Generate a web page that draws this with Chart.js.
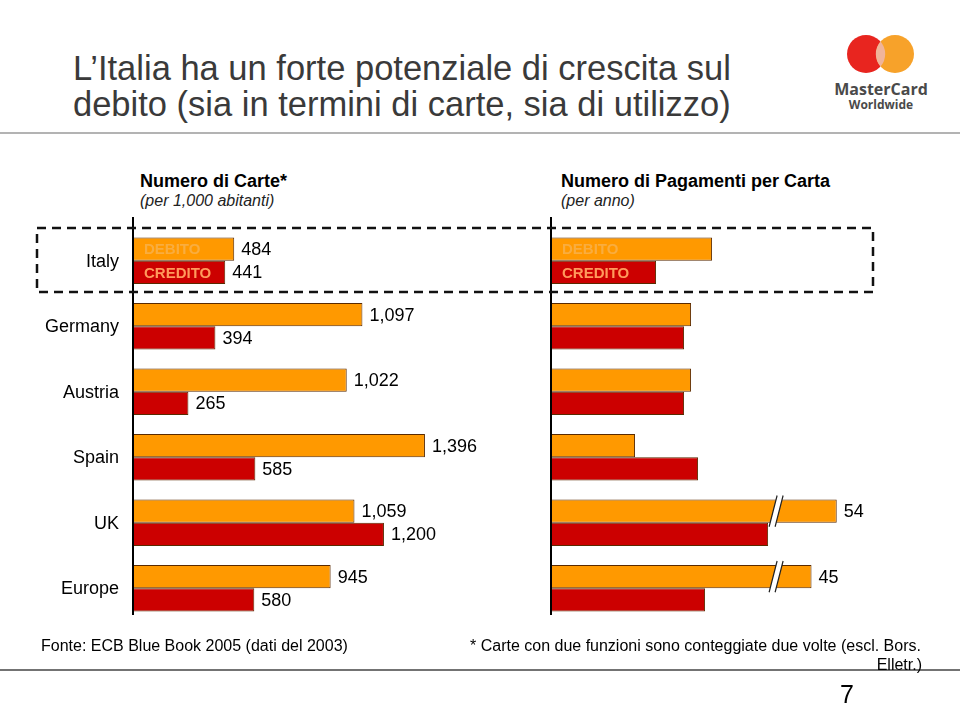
<!DOCTYPE html>
<html>
<head>
<meta charset="utf-8">
<script src="https://cdn.jsdelivr.net/npm/chart.js@4"></script>
<style>
  body { margin: 0; width: 960px; height: 720px; background: #fff; position: relative; overflow: hidden;
         font-family: "Liberation Sans", Arial, sans-serif; color: #000; }
  .abs { position: absolute; }
  #titolo { left: 73px; top: 50px; font-size: 34.5px; line-height: 36px; color: #3a3a3a; white-space: nowrap; }
  .hdr { font-size: 18px; line-height: 21px; font-weight: bold; }
  .sub { font-size: 16px; line-height: 18px; font-style: italic; color: #222; }
  .nota { font-size: 16px; line-height: 18px; white-space: nowrap; }
</style>
</head>
<body>

<div id="titolo" class="abs">L’Italia ha un forte potenziale di crescita sul<br>debito (sia in termini di carte, sia di utilizzo)</div>

<svg class="abs" style="left:0;top:0" width="960" height="720">
  <line x1="0" y1="133" x2="960" y2="133" stroke="#9a9a9a" stroke-width="1.5"/>
  <line x1="0" y1="670" x2="960" y2="670" stroke="#444" stroke-width="1.5"/>
  <!-- logo -->
  <circle cx="866" cy="54" r="19" fill="#e8251f"/>
  <circle cx="895" cy="54" r="19" fill="#f7a22a"/>
  <path d="M880.5 41.5 A19 19 0 0 1 880.5 66.5 A19 19 0 0 1 880.5 41.5 Z" fill="#f0b49a"/>
  <text x="881" y="95" text-anchor="middle" font-family="Open Sans, sans-serif" font-weight="bold" font-size="16" fill="#4a4a4a">MasterCard</text>
  <text x="881" y="109" text-anchor="middle" font-family="Open Sans, sans-serif" font-weight="bold" font-size="12" fill="#4a4a4a">Worldwide</text>
</svg>

<div class="abs" style="left:140px;top:171px"><div class="hdr">Numero di Carte*</div><div class="sub">(per 1,000 abitanti)</div></div>
<div class="abs" style="left:561px;top:171px"><div class="hdr">Numero di Pagamenti per Carta</div><div class="sub">(per anno)</div></div>

<div class="abs" style="left:0;top:210px;width:545px;height:420px"><canvas id="chartCarte"></canvas></div>
<div class="abs" style="left:545px;top:210px;width:415px;height:420px"><canvas id="chartPagamenti"></canvas></div>

<svg class="abs" style="left:0;top:0;pointer-events:none" width="960" height="720">
  <rect x="37" y="228" width="836" height="64" fill="none" stroke="#111" stroke-width="2.5" stroke-dasharray="9,6"/>
</svg>

<div class="abs nota" style="left:41px;top:637px">Fonte: ECB Blue Book 2005 (dati del 2003)</div>
<div class="abs nota" style="left:470px;top:637px">* Carte con due funzioni sono conteggiate due volte (escl. Bors.</div>
<div class="abs nota" style="right:38px;top:656px">Elletr.)</div>
<div class="abs" style="left:840px;top:680px;font-size:25px">7</div>

<script>
// -----------------------------------------------
// dati
// -----------------------------------------------
const paesi = ["Italy", "Germany", "Austria", "Spain", "UK", "Europe"];
const carteDebito = [484, 1097, 1022, 1396, 1059, 945];
const carteCredito = [441, 394, 265, 585, 1200, 580];
// etichette bianche nell'originale: valori stimati dalla lunghezza delle barre
const pagamentiDebito = [23, 20, 20, 12, 54, 45];
const pagamentiCredito = [15, 19, 19, 21, 31, 22];
const serieNomi = ["DEBITO", "CREDITO"];

const ARANCIO = "#ff9900";
const ROSSO = "#cc0000";
const BORDO = "#5a2a00";
const breakFactor = 0.4;  // compressione oltre l'interruzione

const fmt = v => v.toLocaleString("en-US");

// -----------------------------------------------
// plugin: asse, paesi, etichette valori, nomi serie, interruzioni
// -----------------------------------------------
const decorPlugin = {
  id: "decor",
  afterDatasetsDraw(chart, args, opts) {
    const { ctx, chartArea } = chart;
    const breakAt = opts.breakAt;
    ctx.save();

    // asse verticale
    ctx.strokeStyle = "#000";
    ctx.lineWidth = 2;
    ctx.beginPath();
    ctx.moveTo(chartArea.left, 7);
    ctx.lineTo(chartArea.left, 405);
    ctx.stroke();

    // nomi dei paesi
    if (opts.showLabels) {
      ctx.font = "18px 'Liberation Sans', Arial, sans-serif";
      ctx.textBaseline = "middle";
      ctx.textAlign = "right";
      ctx.fillStyle = "#000";
      chart.data.labels.forEach((lab, i) => {
        ctx.fillText(lab, chartArea.left - 14, chart.scales.y.getPixelForValue(i) + 1);
      });
    }

    chart.data.datasets.forEach((ds, di) => {
      const meta = chart.getDatasetMeta(di);
      meta.data.forEach((bar, i) => {
        const real = ds.realValues[i];
        const h = bar.height;
        const broken = real > breakAt;

        // interruzione dell'asse
        if (broken) {
          const bx = chart.scales.x.getPixelForValue(breakAt);
          const t = bar.y - h / 2 - 4, b = bar.y + h / 2 + 4;
          ctx.fillStyle = "#fff";
          ctx.beginPath();
          ctx.moveTo(bx - 6, b); ctx.lineTo(bx + 2, t);
          ctx.lineTo(bx + 8, t); ctx.lineTo(bx, b);
          ctx.closePath();
          ctx.fill();
          ctx.strokeStyle = "#222";
          ctx.lineWidth = 1.2;
          ctx.beginPath();
          ctx.moveTo(bx - 6, b); ctx.lineTo(bx + 2, t);
          ctx.moveTo(bx, b); ctx.lineTo(bx + 8, t);
          ctx.stroke();
        }

        // valore
        ctx.font = "18px 'Liberation Sans', Arial, sans-serif";
        ctx.textBaseline = "middle";
        ctx.textAlign = "left";
        ctx.fillStyle = broken ? "#000" : opts.labelColor;
        ctx.fillText(fmt(real), bar.x + 7, bar.y + 1);

        // nome serie nella prima categoria
        if (i === 0) {
          ctx.font = "bold 15px 'Liberation Sans', Arial, sans-serif";
          ctx.fillStyle = di === 0 ? "#f9ad3f" : "#ff9a5c";
          ctx.fillText(serieNomi[di], chartArea.left + 11, bar.y + 1);
        }
      });
    });
    ctx.restore();
  }
};

// -----------------------------------------------
// grafico a barre orizzontali
// -----------------------------------------------
function drawPanel({ canvasId, debito, credito, xMax, showLabels, labelColor, padLeft, breakAt = Infinity }) {
  const showBreak = v => v > breakAt ? breakAt + (v - breakAt) * breakFactor : v;

  return new Chart(document.getElementById(canvasId), {
    type: "bar",
    data: {
      labels: paesi,
      datasets: [
        { label: serieNomi[0], data: debito.map(showBreak), realValues: debito,
          backgroundColor: ARANCIO, borderColor: BORDO, borderWidth: 1 },
        { label: serieNomi[1], data: credito.map(showBreak), realValues: credito,
          backgroundColor: ROSSO, borderColor: BORDO, borderWidth: 1 }
      ]
    },
    options: {
      indexAxis: "y",
      responsive: true,
      maintainAspectRatio: false,
      animation: false,
      categoryPercentage: 0.71,
      barPercentage: 1.0,
      layout: { padding: { top: 18, bottom: 9, left: padLeft, right: 0 } },
      plugins: {
        legend: { display: false },
        tooltip: { enabled: false },
        decor: { labelColor, breakAt, showLabels }
      },
      scales: {
        x: { display: false, min: 0, max: xMax },
        y: { display: false }
      }
    },
    plugins: [decorPlugin]
  });
}

drawPanel({ canvasId: "chartCarte", debito: carteDebito, credito: carteCredito,
            xMax: 1970, showLabels: true, labelColor: "#000", padLeft: 133 });
drawPanel({ canvasId: "chartPagamenti", debito: pagamentiDebito, credito: pagamentiCredito,
            xMax: 58.4, showLabels: false, labelColor: "#fff", padLeft: 6, breakAt: 32 });
</script>
</body>
</html>
